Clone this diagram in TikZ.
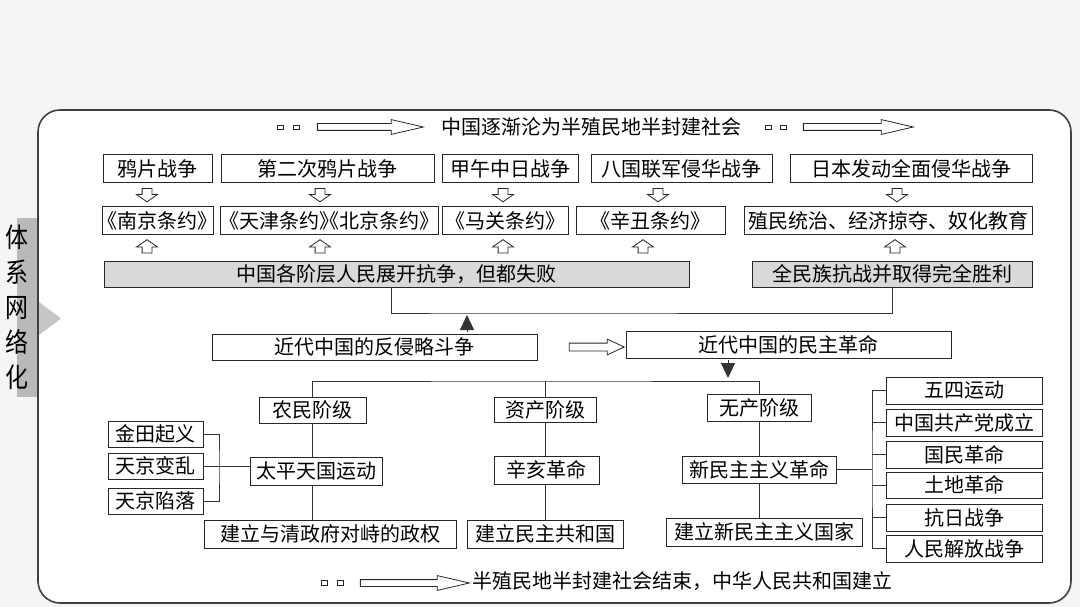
\documentclass[tikz,border=0pt]{standalone}
\usepackage{fontspec}
\newfontfamily\cjk{Noto Sans CJK SC}
\newfontfamily\cjkhalt[RawFeature=+halt]{Noto Sans CJK SC}
\usetikzlibrary{arrows.meta,shapes.arrows}

\begin{document}
\begin{tikzpicture}[x=1pt,y=-1pt,
    mapBox/.style={draw=black!85,line width=0.9pt,fill=white,inner sep=0pt,font=\cjk\fontsize{20}{24}\selectfont},
    treatyBox/.style={mapBox,font=\cjkhalt\fontsize{20}{24}\selectfont},
    grayBox/.style={mapBox,fill=gray!30},
    plainText/.style={inner sep=0pt,font=\cjk\fontsize{20}{24}\selectfont},
    mapLine/.style={draw=black!80,line width=0.9pt},
    solidTip/.style={mapLine,-{Triangle[length=15pt,width=14pt]},shorten <=2pt},
    flowArrow/.style={single arrow,draw=black!85,line width=0.8pt,fill=white,inner sep=3pt,single arrow head extend=4pt,minimum width=14pt},
    stepArrow/.style={single arrow,draw=black!85,line width=0.8pt,fill=white,inner sep=4.5pt,single arrow head extend=5.5pt,minimum width=20pt,minimum height=13pt,single arrow tip angle=110},
    tag/.style={draw=black!85,line width=0.7pt,minimum width=6pt,minimum height=4.5pt,inner sep=0pt},
]
% Background and frame
\fill[gray!8] (0,0) rectangle (1080,607);
\useasboundingbox (0,0) rectangle (1080,607);
\draw[black!75,line width=1.6pt,fill=white,rounded corners=22pt] (38,110) rectangle (1071,603);
\fill[gray!55] (17,218) rectangle (37,397);
\fill[gray!45] (39,302) -- (61,318.5) -- (39,335) -- cycle;
\node[inner sep=0pt,align=center,xscale=0.85,font=\cjk\fontsize{27}{35}\selectfont] (tabTitle) at (16.5,307) {体\\系\\网\\络\\化};

% Top line
\node[tag] (tagA1) at (280.5,127.5) {};
\node[tag] (tagA2) at (296,127.5) {};
\node[flowArrow,minimum height=106pt,single arrow tip angle=26] (topArrowA) at (363,127) {};
\node[plainText] (topText) at (591,127) {中国逐渐沦为半殖民地半封建社会};
\node[tag] (tagB1) at (768,127.5) {};
\node[tag] (tagB2) at (783,127.5) {};
\node[flowArrow,minimum height=110pt,single arrow tip angle=26] (topArrowB) at (851,127) {};

% Wars
\node[mapBox,minimum width=109pt,minimum height=28pt] (yapian) at (157.5,168.5) {鸦片战争};
\node[mapBox,minimum width=213pt,minimum height=28pt] (erci) at (327.5,168.5) {第二次鸦片战争};
\node[mapBox,minimum width=136pt,minimum height=28pt] (jiawu) at (510,168.5) {甲午中日战争};
\node[mapBox,minimum width=181pt,minimum height=28pt] (baguo) at (681.5,168.5) {八国联军侵华战争};
\node[mapBox,minimum width=242pt,minimum height=28pt] (riben) at (911,168.5) {日本发动全面侵华战争};

% Treaties
\node[treatyBox,minimum width=111pt,minimum height=28pt] (nanjing) at (157.5,220.5) {《南京条约》};
\node[treatyBox,minimum width=218pt,minimum height=28pt] (tianjin) at (329,220.5) {《天津条约》《北京条约》};
\node[treatyBox,minimum width=126pt,minimum height=28pt] (maguan) at (505,220.5) {《马关条约》};
\node[treatyBox,minimum width=149pt,minimum height=28pt] (xinchou) at (650.5,220.5) {《辛丑条约》};
\node[mapBox,minimum width=288pt,minimum height=28pt] (zhimin) at (888,220.5) {殖民统治、经济掠夺、奴化教育};

% Resistance
\node[grayBox,minimum width=585pt,minimum height=26pt] (kangzheng) at (396.5,274) {中国各阶层人民展开抗争，但都失败};
\node[grayBox,minimum width=280pt,minimum height=26pt] (quanmin) at (892,274) {全民族抗战并取得完全胜利};

\foreach \x/\n in {147/a,320/b,503/c,658/d,897/e}
  \node[stepArrow,rotate=-90] (down\n) at (\x,193.5) {};
\foreach \x/\n in {147/a,320/b,503/c,643/d,895/e}
  \node[stepArrow,rotate=90] (up\n) at (\x,248) {};

% Two themes
\node[mapBox,minimum width=325pt,minimum height=26pt] (fankang) at (374.5,347) {近代中国的反侵略斗争};
\node[flowArrow,minimum height=55pt,single arrow tip angle=50,inner sep=3.5pt] (midArrow) at (592.5,347) {};
\node[mapBox,minimum width=325pt,minimum height=27pt] (minzhu) at (788.5,344.5) {近代中国的民主革命};

\coordinate (upJoin) at (467,313);
\draw[mapLine] ([xshift=-5.5pt]kangzheng.south) |- (upJoin) -| (quanmin.south);
\draw[solidTip,shorten >=2pt] (fankang.north -| upJoin) -- (upJoin);

% Classes
\node[mapBox,minimum width=107pt,minimum height=26pt] (nongmin) at (312.5,410) {农民阶级};
\node[mapBox,minimum width=102pt,minimum height=25pt] (zichan) at (545,409.5) {资产阶级};
\node[mapBox,minimum width=104pt,minimum height=27pt] (wuchan) at (759,407.5) {无产阶级};

\coordinate (classBar) at (546,381);
\coordinate (downJoin) at (728,381);
\draw[solidTip,shorten >=3pt] (minzhu.south -| downJoin) -- (downJoin);
\draw[mapLine] (nongmin.north) |- (classBar) -| (wuchan.north);
\draw[mapLine] (zichan.north) -- (zichan.north |- classBar);

% Revolutions
\node[mapBox,minimum width=132pt,minimum height=28pt] (taiping) at (316,471) {太平天国运动};
\node[mapBox,minimum width=105pt,minimum height=28pt] (xinhai) at (546.5,470) {辛亥革命};
\node[mapBox,minimum width=154pt,minimum height=27pt] (xinmin) at (759,469.5) {新民主主义革命};

\node[mapBox,minimum width=252pt,minimum height=28pt] (zhengquan) at (330,534) {建立与清政府对峙的政权};
\node[mapBox,minimum width=156pt,minimum height=28pt] (gonghe) at (545,534) {建立民主共和国};
\node[mapBox,minimum width=196pt,minimum height=28pt] (guojia) at (764,532) {建立新民主主义国家};

\draw[mapLine] (nongmin.south) -- (taiping.north -| nongmin.south);
\draw[mapLine] (taiping.south -| nongmin.south) -- (zhengquan.north -| nongmin.south);
\draw[mapLine] (zichan.south) -- (xinhai.north -| zichan.south);
\draw[mapLine] (xinhai.south -| zichan.south) -- (gonghe.north -| zichan.south);
\draw[mapLine] (wuchan.south) -- (xinmin.north -| wuchan.south);
\draw[mapLine] (xinmin.south -| wuchan.south) -- (guojia.north -| wuchan.south);

% Taiping events
\node[mapBox,minimum width=95pt,minimum height=26pt] (jintian) at (155.5,434) {金田起义};
\node[mapBox,minimum width=95pt,minimum height=26pt] (bianluan) at (155.5,466) {天京变乱};
\node[mapBox,minimum width=95pt,minimum height=26pt] (xianluo) at (155.5,501) {天京陷落};

\coordinate (leftBr) at (219,466);
\draw[mapLine] (jintian.east) -| (leftBr) |- (xianluo.east);
\draw[mapLine] (bianluan.east) -- (bianluan.east -| taiping.west);

% New democratic revolution stages
\node[mapBox,minimum width=156pt,minimum height=27pt] (wusi) at (964,390.5) {五四运动};
\node[mapBox,minimum width=156pt,minimum height=27pt] (jiandang) at (964,422.5) {中国共产党成立};
\node[mapBox,minimum width=156pt,minimum height=27pt] (guomin) at (964,454.5) {国民革命};
\node[mapBox,minimum width=156pt,minimum height=26pt] (tudi) at (964,485) {土地革命};
\node[mapBox,minimum width=156pt,minimum height=27pt] (kangri) at (964,517.5) {抗日战争};
\node[mapBox,minimum width=156pt,minimum height=27pt] (jiefang) at (964,548.5) {人民解放战争};

\coordinate (rightBr) at (872,469.5);
\draw[mapLine] (wusi.west) -| (rightBr) |- (jiefang.west);
\foreach \n in {jiandang,guomin,tudi,kangri}
  \draw[mapLine] (\n.west) -- (\n.west -| rightBr);
\draw[mapLine] (xinmin.east) -- (xinmin.east -| rightBr);

% Bottom line
\node[tag] (tagC1) at (324,583) {};
\node[tag] (tagC2) at (340,583) {};
\node[flowArrow,minimum height=109pt,single arrow tip angle=26] (bottomArrow) at (407.5,583) {};
\node[plainText] (bottomText) at (682.5,581) {半殖民地半封建社会结束，中华人民共和国建立};
\end{tikzpicture}
\end{document}
